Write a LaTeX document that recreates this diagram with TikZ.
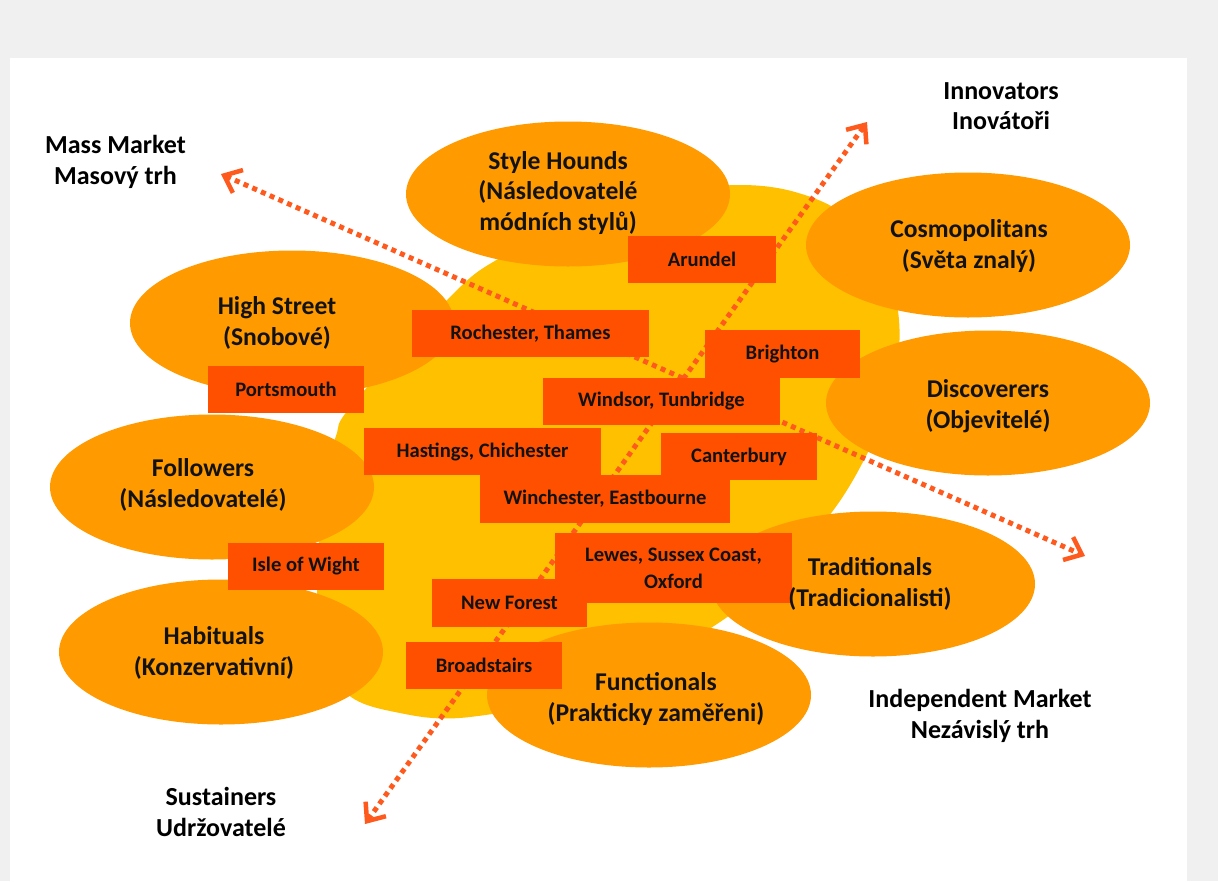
\documentclass[tikz,border=0pt]{standalone}
\usepackage{fontspec}
\setmainfont{Carlito}
\usetikzlibrary{shapes.geometric,arrows.meta}
\definecolor{bggray}{HTML}{F0F0F0}
\definecolor{blobyellow}{HTML}{FFC000}
\definecolor{ellorange}{HTML}{FF9A00}
\definecolor{rectred}{HTML}{FF5000}
\definecolor{arrowred}{HTML}{FF5A1E}
\definecolor{txt}{HTML}{121212}
\begin{document}
\begin{tikzpicture}[x=1pt,y=-1pt,
  seg/.style={ellipse, fill=ellorange, inner sep=0pt, minimum width=324pt, minimum height=145pt},
  place/.style={rectangle, fill=rectred, inner sep=0pt, font=\bfseries\fontsize{20.6}{27}\selectfont, text=txt, align=center},
  segtext/.style={font=\bfseries\fontsize{25.6}{30.5}\selectfont, text=txt, align=center, inner sep=0pt},
  corner/.style={font=\bfseries\fontsize{26}{30.5}\selectfont, text=black, align=center, inner sep=0pt},
  axisline/.style={draw=arrowred, line width=5pt, dash pattern=on 5pt off 4.5pt,
    {Straight Barb[length=15pt,width=25pt,line width=4.5pt]}-{Straight Barb[length=15pt,width=25pt,line width=4.5pt]}}
]
\useasboundingbox (0,0) rectangle (1218,881);
\fill[bggray] (0,0) rectangle (1218,881);
\fill[white] (10,58) rectangle (1187,881);

% central blob
\fill[blobyellow] plot[smooth cycle, tension=0.6] coordinates {
 (740,185) (795,192) (845,215) (882,260) (899,320) (893,390) (868,452) (832,512)
 (780,568) (720,622) (600,688) (470,717) (395,712) (345,692) (320,640) (318,560)
 (325,480) (336,436) (352,405) (447,300) (500,258) (600,213) (680,192)};

% axes
\coordinate (mm) at (221,174);
\coordinate (im) at (1085,556);
\coordinate (inn) at (867,122);
\coordinate (sus) at (365,824);
\draw[axisline] (mm) -- (im);
\draw[axisline] (sus) -- (inn);

% segment ellipses
\node[seg] (stylehounds) at (568,194) {};
\node[seg] (cosmo) at (968,245) {};
\node[seg] (highstreet) at (292,323) {};
\node[seg] (discoverers) at (988,403) {};
\node[seg] (followers) at (212,487) {};
\node[seg] (traditionals) at (873,584) {};
\node[seg] (habituals) at (221,652) {};
\node[seg] (functionals) at (649,695) {};

% places
\node[place, minimum width=148pt, minimum height=47pt] (arundel) at (702,259.5) {Arundel};
\node[place, minimum width=237pt, minimum height=47pt] (rochester) at (530.5,333.5) {Rochester, Thames};
\node[place, minimum width=155pt, minimum height=48pt] (brighton) at (782.5,354) {Brighton};
\node[place, minimum width=156pt, minimum height=47pt] (portsmouth) at (286,389.5) {Portsmouth};
\node[place, minimum width=237pt, minimum height=47pt] (windsor) at (661.5,401.5) {Windsor, Tunbridge};
\node[place, minimum width=237pt, minimum height=47pt] (hastings) at (482.5,451.5) {Hastings, Chichester};
\node[place, minimum width=156pt, minimum height=47pt] (canterbury) at (739,456.5) {Canterbury};
\node[place, minimum width=250pt, minimum height=48pt] (winchester) at (605,499) {Winchester, Eastbourne};
\node[place, minimum width=156pt, minimum height=47pt] (isle) at (306,566.5) {Isle of Wight};
\node[place, minimum width=237pt, minimum height=70pt] (lewes) at (673.5,568) {Lewes, Sussex Coast,\\Oxford};
\node[place, minimum width=155pt, minimum height=48pt] (newforest) at (509.5,603) {New Forest};
\node[place, minimum width=156pt, minimum height=47pt] (broadstairs) at (484,665.5) {Broadstairs};

% segment labels
\node[segtext] (t-stylehounds) at (558,193) {Style Hounds\\(Následovatelé\\módních stylů)};
\node[segtext] (t-cosmo) at (969,246) {Cosmopolitans\\(Světa znalý)};
\node[segtext] (t-highstreet) at (277,323) {High Street\\(Snobové)};
\node[segtext] (t-discoverers) at (988,406) {Discoverers\\(Objevitelé)};
\node[segtext] (t-followers) at (203,485) {Followers\\(Následovatelé)};
\node[segtext] (t-traditionals) at (870,584) {Traditionals\\(Tradicionalisti)};
\node[segtext] (t-habituals) at (214,653) {Habituals\\(Konzervativní)};
\node[segtext] (t-functionals) at (656,699) {Functionals\\(Prakticky zaměřeni)};

% corner labels
\node[corner] (l-mass) at (115.5,162) {Mass Market\\Masový trh};
\node[corner] (l-innov) at (1001,106) {Innovators\\Inovátoři};
\node[corner] (l-indep) at (980,716) {Independent Market\\Nezávislý trh};
\node[corner] (l-sust) at (221,812) {Sustainers\\Udržovatelé};
\end{tikzpicture}
\end{document}
